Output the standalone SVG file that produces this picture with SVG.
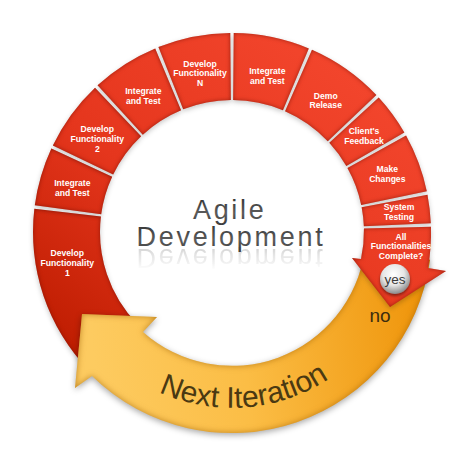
<svg xmlns="http://www.w3.org/2000/svg" xmlns:xlink="http://www.w3.org/1999/xlink" width="468" height="468" viewBox="0 0 468 468">
<defs>
<style>
.lbl{font-family:"Liberation Sans",Arial,sans-serif;font-weight:bold;font-size:8.6px;fill:#fff;text-anchor:middle}
.seg{fill:url(#redG);filter:url(#segF)}
.title{font-family:"Liberation Sans",Arial,sans-serif;font-size:27px;letter-spacing:2.7px;text-anchor:middle;fill:url(#titleG)}
</style>
<linearGradient id="redG" gradientUnits="userSpaceOnUse" x1="330" y1="60" x2="90" y2="360">
<stop offset="0" stop-color="#f2452c"/><stop offset="0.55" stop-color="#e5361d"/><stop offset="1" stop-color="#c01e02"/>
</linearGradient>
<linearGradient id="yelG" gradientUnits="userSpaceOnUse" x1="90" y1="330" x2="420" y2="290">
<stop offset="0" stop-color="#fdcb60"/><stop offset="0.45" stop-color="#fbbd45"/><stop offset="1" stop-color="#ef950b"/>
</linearGradient>
<linearGradient id="titleG" x1="0" y1="0" x2="0" y2="1">
<stop offset="0" stop-color="#2f2f2f"/><stop offset="0.6" stop-color="#5c5c5c"/><stop offset="1" stop-color="#3a3a3a"/>
</linearGradient>
<radialGradient id="ballG" cx="0.45" cy="0.35" r="0.65">
<stop offset="0" stop-color="#ffffff"/><stop offset="0.55" stop-color="#e6e6e6"/><stop offset="0.85" stop-color="#a8a8a8"/><stop offset="1" stop-color="#8a8a8a"/>
</radialGradient>
<linearGradient id="fadeG" gradientUnits="userSpaceOnUse" x1="0" y1="247" x2="0" y2="270">
<stop offset="0" stop-color="#fff" stop-opacity="0.25"/><stop offset="1" stop-color="#fff" stop-opacity="0"/>
</linearGradient>
<mask id="fade" maskUnits="userSpaceOnUse" x="0" y="0" width="468" height="468">
<rect x="0" y="247" width="468" height="30" fill="url(#fadeG)"/>
</mask>
<filter id="segF" x="-20%" y="-20%" width="140%" height="140%" color-interpolation-filters="sRGB">
<feGaussianBlur in="SourceAlpha" stdDeviation="2.5" result="b"/>
<feOffset in="b" dx="0" dy="2" result="ob"/>
<feFlood flood-color="#000" flood-opacity="0.22"/>
<feComposite in2="ob" operator="in" result="drop"/>
<feComponentTransfer in="SourceAlpha" result="inv"><feFuncA type="table" tableValues="1 0"/></feComponentTransfer>
<feGaussianBlur in="inv" stdDeviation="2.2" result="ib"/>
<feFlood flood-color="#6a0a00" flood-opacity="0.6"/>
<feComposite in2="ib" operator="in"/>
<feComposite in2="SourceAlpha" operator="in" result="inner"/>
<feMerge><feMergeNode in="drop"/><feMergeNode in="SourceGraphic"/><feMergeNode in="inner"/></feMerge>
</filter>
<filter id="yelF" x="-20%" y="-20%" width="140%" height="140%" color-interpolation-filters="sRGB">
<feGaussianBlur in="SourceAlpha" stdDeviation="3" result="b"/>
<feOffset in="b" dx="0" dy="2" result="ob"/>
<feFlood flood-color="#000" flood-opacity="0.35"/>
<feComposite in2="ob" operator="in" result="drop"/>
<feComponentTransfer in="SourceAlpha" result="inv"><feFuncA type="table" tableValues="1 0"/></feComponentTransfer>
<feGaussianBlur in="inv" stdDeviation="3" result="ib"/>
<feFlood flood-color="#9a5a00" flood-opacity="0.6"/>
<feComposite in2="ib" operator="in"/>
<feComposite in2="SourceAlpha" operator="in" result="inner"/>
<feMerge><feMergeNode in="drop"/><feMergeNode in="SourceGraphic"/><feMergeNode in="inner"/></feMerge>
</filter>
<filter id="ballF" x="-30%" y="-30%" width="160%" height="160%">
<feGaussianBlur in="SourceAlpha" stdDeviation="1.5" result="b"/>
<feOffset dy="1.5" result="o"/>
<feFlood flood-color="#000" flood-opacity="0.45"/>
<feComposite in2="o" operator="in"/>
<feMerge><feMergeNode/><feMergeNode in="SourceGraphic"/></feMerge>
</filter>
<path id="iterPath" d="M58.7 262.6 A176 176 0 0 0 405.3 262.6"/>
</defs>
<rect width="468" height="468" fill="#fff"/>

<g id="title">
<text class="title" x="229.7" y="219.3">Agile</text>
<text id="devText" class="title" x="231" y="246">Development</text>
<g mask="url(#fade)"><use xlink:href="#devText" href="#devText" transform="translate(0,495) scale(1,-1)"/></g>
</g>

<g id="n-dev1">
<path class="seg" d="M88.85 370.24 A199 199 0 0 1 34.36 208.78 L100.90 216.60 A132 132 0 0 0 137.05 323.70 Z"/>
<text class="lbl" x="67.3" y="256.3">Develop</text><text class="lbl" x="67.3" y="266.1">Functionality</text><text class="lbl" x="67.3" y="275.9">1</text>
</g>
<g id="n-int1">
<path class="seg" d="M34.80 205.34 A199 199 0 0 1 51.35 148.53 L112.17 176.63 A132 132 0 0 0 101.19 214.31 Z"/>
<text class="lbl" x="72.3" y="186.3">Integrate</text><text class="lbl" x="72.3" y="196.1">and Test</text>
</g>
<g id="n-dev2">
<path class="seg" d="M52.84 145.39 A199 199 0 0 1 95.02 87.65 L141.14 136.25 A132 132 0 0 0 113.16 174.55 Z"/>
<text class="lbl" x="97.3" y="132.3">Develop</text><text class="lbl" x="97.3" y="142.1">Functionality</text><text class="lbl" x="97.3" y="151.9">2</text>
</g>
<g id="n-int2">
<path class="seg" d="M97.56 85.28 A199 199 0 0 1 155.20 48.41 L181.06 110.22 A132 132 0 0 0 142.82 134.68 Z"/>
<text class="lbl" x="143.3" y="94">Integrate</text><text class="lbl" x="143.3" y="103.8">and Test</text>
</g>
<g id="n-devN">
<path class="seg" d="M158.42 47.10 A199 199 0 0 1 230.26 33.01 L230.85 100.01 A132 132 0 0 0 183.19 109.35 Z"/>
<text class="lbl" x="200" y="66.5">Develop</text><text class="lbl" x="200" y="76.3">Functionality</text><text class="lbl" x="200" y="86.1">N</text>
</g>
<g id="n-int3">
<path class="seg" d="M233.74 33.01 A199 199 0 0 1 308.80 48.41 L282.94 110.22 A132 132 0 0 0 233.15 100.01 Z"/>
<text class="lbl" x="267.3" y="74.3">Integrate</text><text class="lbl" x="267.3" y="84.1">and Test</text>
</g>
<g id="n-demo">
<path class="seg" d="M311.99 49.78 A199 199 0 0 1 376.35 95.02 L327.75 141.14 A132 132 0 0 0 285.06 111.13 Z"/>
<text class="lbl" x="325.7" y="98.6">Demo</text><text class="lbl" x="325.7" y="108.4">Release</text>
</g>
<g id="n-client">
<path class="seg" d="M378.72 97.56 A199 199 0 0 1 404.34 132.5 L346.32 166 A132 132 0 0 0 329.32 142.82 Z"/>
<text class="lbl" x="364" y="134">Client's</text><text class="lbl" x="364" y="143.8">Feedback</text>
</g>
<g id="n-make">
<path class="seg" d="M406.05 135.52 A199 199 0 0 1 426.80 191.30 L361.21 205.01 A132 132 0 0 0 347.45 168.01 Z"/>
<text class="lbl" x="387.3" y="172.3">Make</text><text class="lbl" x="387.3" y="182.1">Changes</text>
</g>
<g id="n-system">
<path class="seg" d="M427.48 194.71 A199 199 0 0 1 430.81 223.32 L363.87 226.24 A132 132 0 0 0 361.66 207.27 Z"/>
<text class="lbl" x="399" y="210.3">System</text><text class="lbl" x="399" y="220.1">Testing</text>
</g>

<g id="connectors">
<path d="M430.05 259.83 A200 200 0 0 1 92 376 L75 388 L82 314 L157 317 L143 332 A134 134 0 0 0 364.7 250.65 Z" fill="url(#yelG)" filter="url(#yelF)"/>
<text font-family="'Liberation Sans',Arial,sans-serif" font-size="30" fill="#4a3912" text-anchor="middle"><textPath href="#iterPath" xlink:href="#iterPath" startOffset="259">Next Iteration</textPath></text>
<text x="380" y="322" font-family="'Liberation Sans',Arial,sans-serif" font-size="19" fill="#3d2d0e" text-anchor="middle">no</text>
</g>

<g id="n-all">
<path class="seg" d="M430.93 226.79 A199 199 0 0 1 428 268 L446 271 L390 307 L352 258 L361 259 A132 132 0 0 0 363.96 228.54 Z"/>
<text class="lbl" x="401" y="240">All</text><text class="lbl" x="401" y="249.3">Functionalities</text><text class="lbl" x="401" y="258.6">Complete?</text>
</g>
<g id="n-yes">
<circle cx="395" cy="279" r="15" fill="url(#ballG)" filter="url(#ballF)"/>
<text x="395" y="284" font-family="'Liberation Sans',Arial,sans-serif" font-size="13.5" fill="#3a3a3a" text-anchor="middle">yes</text>
</g>
</svg>
